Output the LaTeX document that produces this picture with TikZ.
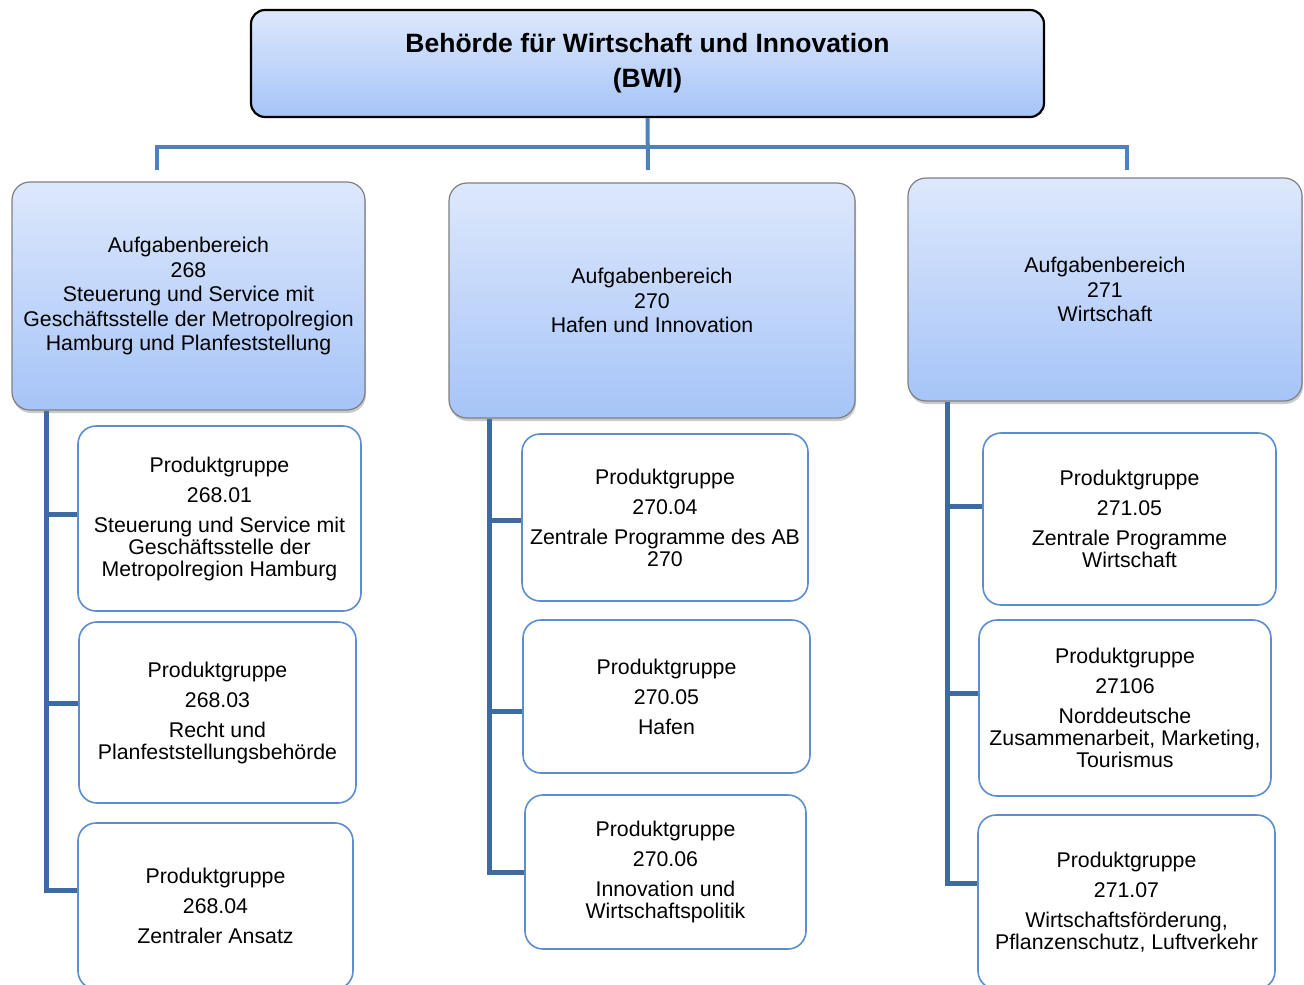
\documentclass[tikz,border=0pt]{standalone}
\usepackage{fontspec}
\setmainfont{Liberation Sans}
\usetikzlibrary{shadows}
\definecolor{gradtop}{HTML}{DDE8FC}
\definecolor{gradbot}{HTML}{A6C4F8}
\definecolor{areaedge}{HTML}{7F7F7F}
\definecolor{groupedge}{HTML}{5B8DD0}
\definecolor{bwiline}{HTML}{4F81BD}
\definecolor{branchline}{HTML}{3E6AA3}

\begin{document}
\begin{tikzpicture}[x=1pt, y=-1pt,
  head/.style={draw=black, line width=2.2pt, rounded corners=14pt, top color=gradtop, bottom color=gradbot, align=center, inner sep=0pt, font=\bfseries\fontsize{26.5}{35}\selectfont},
  area/.style={draw=areaedge, line width=1.2pt, rounded corners=18pt, top color=gradtop, bottom color=gradbot, align=center, inner sep=0pt, font=\fontsize{21.3}{24.5}\selectfont, drop shadow={shadow xshift=1pt, shadow yshift=-3pt, opacity=0.35, fill=black!60}},
  group/.style={draw=groupedge, line width=1.6pt, rounded corners=18pt, fill=white, align=center, inner sep=0pt, font=\fontsize{21.3}{22}\selectfont},
  trunk/.style={draw=bwiline, line width=4pt},
  branch/.style={draw=branchline, line width=5pt}
]
\useasboundingbox (0,0) rectangle (1304,985);
\clip (0,0) rectangle (1304,985);
% Behoerde
\node[head, minimum width=793pt, minimum height=107pt] (bwi) at (647.5,63.5) {Behörde für Wirtschaft und Innovation\\(BWI)};
% Aufgabenbereiche
\node[area, minimum width=353pt, minimum height=228pt] (a268) at (188.5,296) {Aufgabenbereich\\268\\Steuerung und Service mit\\Geschäftsstelle der Metropolregion\\Hamburg und Planfeststellung};
\node[area, minimum width=406pt, minimum height=235pt] (a270) at (652,300.5) {Aufgabenbereich\\270\\Hafen und Innovation};
\node[area, minimum width=394pt, minimum height=223pt] (a271) at (1105,289.5) {Aufgabenbereich\\271\\Wirtschaft};
% Produktgruppen 268
\node[group, minimum width=283pt, minimum height=185pt] (p2681) at (219.5,518.5) {Produktgruppe\\[8pt]268.01\\[8pt]Steuerung und Service mit\\Geschäftsstelle der\\Metropolregion Hamburg};
\node[group, minimum width=277pt, minimum height=181pt] (p2683) at (217.5,712.5) {Produktgruppe\\[8pt]268.03\\[8pt]Recht und\\Planfeststellungsbehörde};
\node[group, minimum width=275pt, minimum height=166pt] (p2684) at (215.5,906) {Produktgruppe\\[8pt]268.04\\[8pt]Zentraler Ansatz};
% Produktgruppen 270
\node[group, minimum width=286pt, minimum height=167pt] (p2704) at (665,517.5) {Produktgruppe\\[8pt]270.04\\[8pt]Zentrale Programme des AB\\270};
\node[group, minimum width=287pt, minimum height=153pt] (p2705) at (666.5,696.5) {Produktgruppe\\[8pt]270.05\\[8pt]Hafen};
\node[group, minimum width=281pt, minimum height=154pt] (p2706) at (665.5,872) {Produktgruppe\\[8pt]270.06\\[8pt]Innovation und\\Wirtschaftspolitik};
% Produktgruppen 271
\node[group, minimum width=293pt, minimum height=172pt] (p2715) at (1129.5,519) {Produktgruppe\\[8pt]271.05\\[8pt]Zentrale Programme\\Wirtschaft};
\node[group, minimum width=292pt, minimum height=176pt] (p2716) at (1125,708) {Produktgruppe\\[8pt]27106\\[8pt]Norddeutsche\\Zusammenarbeit, Marketing,\\Tourismus};
\node[group, minimum width=297pt, minimum height=174pt] (p2717) at (1126.5,902) {Produktgruppe\\[8pt]271.07\\[8pt]Wirtschaftsförderung,\\Pflanzenschutz, Luftverkehr};
% bus under the head
\coordinate (bus) at (648,147);
\coordinate (s268) at (157,170);
\coordinate (s270) at (648,170);
\coordinate (s271) at (1127,170);
\draw[trunk] (bwi.south) -- (s270);
\draw[trunk] (s268) |- (bus) -| (s271);
% branches
\coordinate (v268) at ([xshift=35pt]a268.south west);
\coordinate (v270) at ([xshift=41pt]a270.south west);
\coordinate (v271) at ([xshift=40pt]a271.south west);
\draw[branch] (v268) |- ([yshift=16pt]p2684.west);
\draw[branch] ([yshift=4.5pt]p2681.west) -| (v268);
\draw[branch] ([yshift=9.5pt]p2683.west) -| (v268);
\draw[branch] (v270) |- (p2706.west);
\draw[branch] ([yshift=-2.5pt]p2704.west) -| (v270);
\draw[branch] ([yshift=-14.5pt]p2705.west) -| (v270);
\draw[branch] (v271) |- ([yshift=19pt]p2717.west);
\draw[branch] ([yshift=13pt]p2715.west) -| (v271);
\draw[branch] ([yshift=15pt]p2716.west) -| (v271);
\end{tikzpicture}
\end{document}
